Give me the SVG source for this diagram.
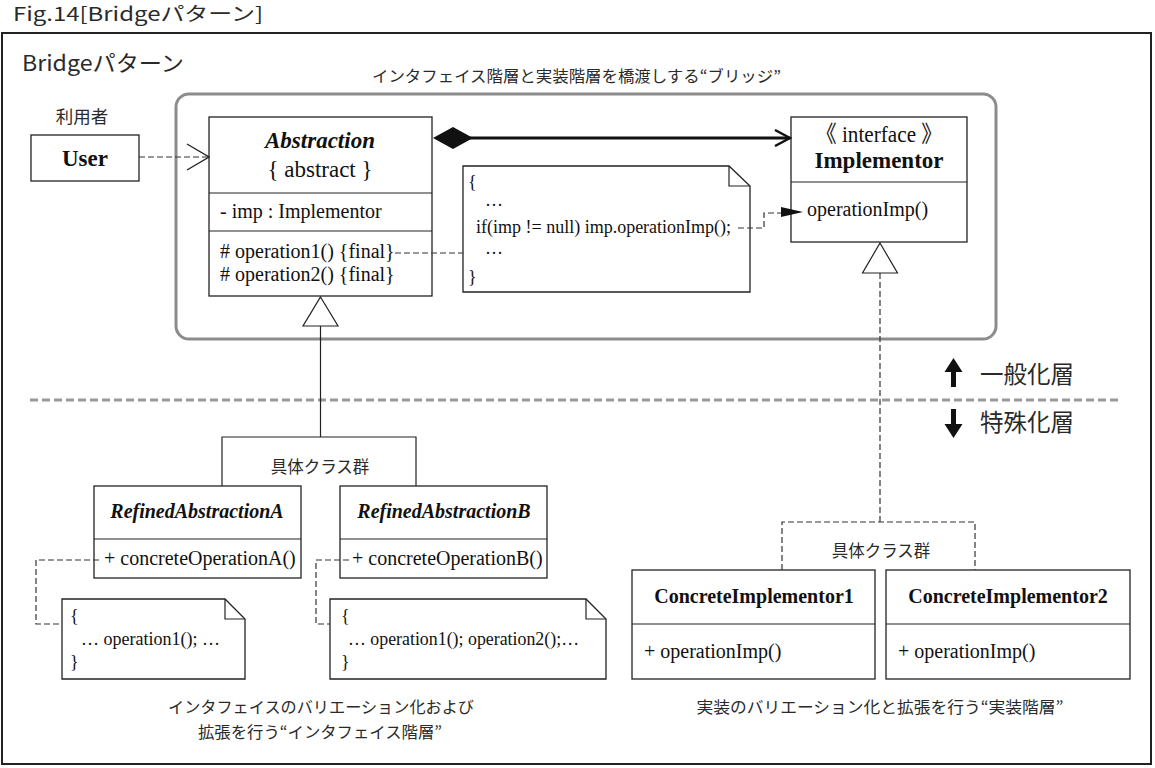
<svg xmlns="http://www.w3.org/2000/svg" width="1155" height="768" viewBox="0 0 1155 768">
<defs>
<style>
.jp{font-family:"Noto Sans CJK JP","Noto Sans",sans-serif;fill:#2a2a2a;}
.sr{font-family:"Liberation Serif","Times New Roman",serif;fill:#111;font-size:20px;}
.sr23{font-family:"Liberation Serif","Times New Roman","Noto Sans CJK JP",serif;fill:#111;font-size:23px;text-anchor:middle;}
.nt{font-family:"Liberation Serif","Times New Roman",serif;fill:#111;font-size:18px;}
.ttl{font-family:"Liberation Serif","Times New Roman",serif;fill:#111;font-weight:bold;text-anchor:middle;}
.box{fill:#fff;stroke:#222;stroke-width:1.3;}
.ln{fill:none;stroke:#222;stroke-width:1.2;}
.dash{fill:none;stroke:#333;stroke-width:1.2;stroke-dasharray:6 3;}
</style>
<marker id="open" viewBox="0 0 24 28" refX="23" refY="14" markerWidth="24" markerHeight="28" markerUnits="userSpaceOnUse" orient="auto">
<path d="M1,1 L23,14 L1,27" fill="none" stroke="#222" stroke-width="1.3"/>
</marker>
<marker id="openBold" viewBox="0 0 18 18" refX="16" refY="9" markerWidth="18" markerHeight="18" markerUnits="userSpaceOnUse" orient="auto">
<path d="M1,1 L16,9 L1,17" fill="none" stroke="#111" stroke-width="2.4"/>
</marker>
</defs>
<rect width="1155" height="768" fill="#fff"/>

<text class="jp" x="13" y="21" font-size="19" textLength="250" lengthAdjust="spacingAndGlyphs">Fig.14[Bridgeパターン]</text>
<rect x="2" y="33" width="1149" height="731" fill="none" stroke="#222" stroke-width="2"/>
<text class="jp" x="22" y="71" font-size="22" textLength="162" lengthAdjust="spacingAndGlyphs">Bridgeパターン</text>

<g id="bridge-area">
<rect x="176" y="94" width="820" height="245" rx="13" ry="13" fill="none" stroke="#8c8c8c" stroke-width="3"/>
<text class="jp" x="372" y="82" font-size="15.5" textLength="409" lengthAdjust="spacingAndGlyphs">インタフェイス階層と実装階層を橋渡しする“ブリッジ”</text>
</g>

<g id="layer-divider">
<line x1="30" y1="400" x2="1118" y2="400" stroke="#999" stroke-width="3.2" stroke-dasharray="8 4"/>
<path d="M953.5,358 L962.5,372 L956,372 L956,387 L951,387 L951,372 L944.5,372 Z" fill="#111"/>
<text class="jp" x="980" y="383" font-size="23.5">一般化層</text>
<path d="M953.5,438 L962.5,424 L956,424 L956,409 L951,409 L951,424 L944.5,424 Z" fill="#111"/>
<text class="jp" x="980" y="431" font-size="23.5">特殊化層</text>
</g>

<g id="user">
<text class="jp" x="82" y="123" font-size="17.5" text-anchor="middle">利用者</text>
<rect class="box" x="31" y="135" width="108" height="46"/>
<text class="ttl" x="85" y="166" font-size="23">User</text>
</g>

<g id="abstraction">
<rect class="box" x="209" y="117" width="223" height="179"/>
<line class="ln" x1="209" y1="193" x2="432" y2="193"/>
<line class="ln" x1="209" y1="231" x2="432" y2="231"/>
<text class="ttl" x="320" y="148" font-size="23" font-style="italic">Abstraction</text>
<text class="sr23" x="320" y="177">{ abstract }</text>
<text class="sr" x="220" y="218">- imp : Implementor</text>
<text class="sr" x="220" y="258"># operation1() {final}</text>
<text class="sr" x="220" y="281"># operation2() {final}</text>
</g>

<g id="note-main">
<path class="box" d="M463,166 L729,166 L750,186 L750,292 L463,292 Z"/>
<path class="ln" d="M729,166 L729,186 L750,186"/>
<text class="nt" x="468" y="188">{</text>
<text class="nt" x="485" y="206">…</text>
<text class="nt" x="476" y="233">if(imp != null) imp.operationImp();</text>
<text class="nt" x="485" y="254">…</text>
<text class="nt" x="468" y="283">}</text>
</g>

<g id="implementor">
<rect class="box" x="791" y="117" width="176" height="125"/>
<line class="ln" x1="791" y1="182" x2="967" y2="182"/>
<text class="sr23" x="879" y="142" textLength="127" lengthAdjust="spacingAndGlyphs">《 interface 》</text>
<text class="ttl" x="879" y="168" font-size="23">Implementor</text>
<text class="sr" x="807" y="216">operationImp()</text>
</g>

<g id="refinedA">
<rect class="box" x="94" y="486" width="207" height="92"/>
<line class="ln" x1="94" y1="539" x2="301" y2="539"/>
<text class="ttl" x="197" y="518" font-size="20" font-style="italic">RefinedAbstractionA</text>
<text class="sr" x="104" y="565">+ concreteOperationA()</text>
</g>

<g id="refinedB">
<rect class="box" x="340" y="486" width="207" height="92"/>
<line class="ln" x1="340" y1="539" x2="547" y2="539"/>
<text class="ttl" x="444" y="518" font-size="20" font-style="italic">RefinedAbstractionB</text>
<text class="sr" x="352" y="565">+ concreteOperationB()</text>
</g>

<g id="noteA">
<path class="box" d="M62,599 L225,599 L245,619 L245,679 L62,679 Z"/>
<path class="ln" d="M225,599 L225,619 L245,619"/>
<text class="nt" x="70" y="622">{</text>
<text class="nt" x="81" y="645">… operation1(); …</text>
<text class="nt" x="70" y="668">}</text>
</g>

<g id="noteB">
<path class="box" d="M330,599 L586,599 L606,619 L606,679 L330,679 Z"/>
<path class="ln" d="M586,599 L586,619 L606,619"/>
<text class="nt" x="341" y="622">{</text>
<text class="nt" x="348" y="645" textLength="231" lengthAdjust="spacingAndGlyphs">… operation1(); operation2();…</text>
<text class="nt" x="341" y="668">}</text>
</g>

<g id="concrete1">
<rect class="box" x="632" y="570" width="243" height="109"/>
<line class="ln" x1="632" y1="624" x2="875" y2="624"/>
<text class="ttl" x="754" y="603" font-size="20">ConcreteImplementor1</text>
<text class="sr" x="644" y="658">+ operationImp()</text>
</g>

<g id="concrete2">
<rect class="box" x="886" y="570" width="244" height="109"/>
<line class="ln" x1="886" y1="624" x2="1130" y2="624"/>
<text class="ttl" x="1008" y="603" font-size="20">ConcreteImplementor2</text>
<text class="sr" x="898" y="658">+ operationImp()</text>
</g>

<g id="connectors">
<line class="dash" x1="139" y1="157" x2="209" y2="157" marker-end="url(#open)"/>
<line x1="470" y1="138" x2="790" y2="138" stroke="#111" stroke-width="3" marker-end="url(#openBold)"/>
<path d="M433,138 L453,127 L473,138 L453,149 Z" fill="#111"/>
<line class="dash" x1="395" y1="253" x2="463" y2="253"/>
<polyline class="dash" points="738,228 764,228 764,213 782,213"/>
<path d="M781,207 L803,212 L781,217 Z" fill="#111"/>
<path d="M320.5,297 L338,326 L303,326 Z" fill="#fff" stroke="#222" stroke-width="1.2"/>
<polyline class="ln" points="320.5,326 320.5,437"/>
<polyline class="ln" points="222,486 222,437 416,437 416,486"/>
<path d="M880,243 L897.5,273 L862.5,273 Z" fill="#fff" stroke="#222" stroke-width="1.2"/>
<polyline class="dash" points="880,273 880,522"/>
<polyline class="dash" points="782,570 782,522 975,522 975,570"/>
<polyline class="dash" points="99,560 36,560 36,624 62,624"/>
<polyline class="dash" points="349,560 316,560 316,624 330,624"/>
<text class="jp" x="320" y="473" font-size="16.5" text-anchor="middle">具体クラス群</text>
<text class="jp" x="881" y="557" font-size="16.5" text-anchor="middle">具体クラス群</text>
</g>

<g id="captions">
<text class="jp" x="321" y="713" font-size="16" text-anchor="middle" textLength="306" lengthAdjust="spacingAndGlyphs">インタフェイスのバリエーション化および</text>
<text class="jp" x="320" y="738" font-size="16" text-anchor="middle" textLength="244" lengthAdjust="spacingAndGlyphs">拡張を行う“インタフェイス階層”</text>
<text class="jp" x="880" y="713" font-size="16" text-anchor="middle" textLength="367" lengthAdjust="spacingAndGlyphs">実装のバリエーション化と拡張を行う“実装階層”</text>
</g>
</svg>
